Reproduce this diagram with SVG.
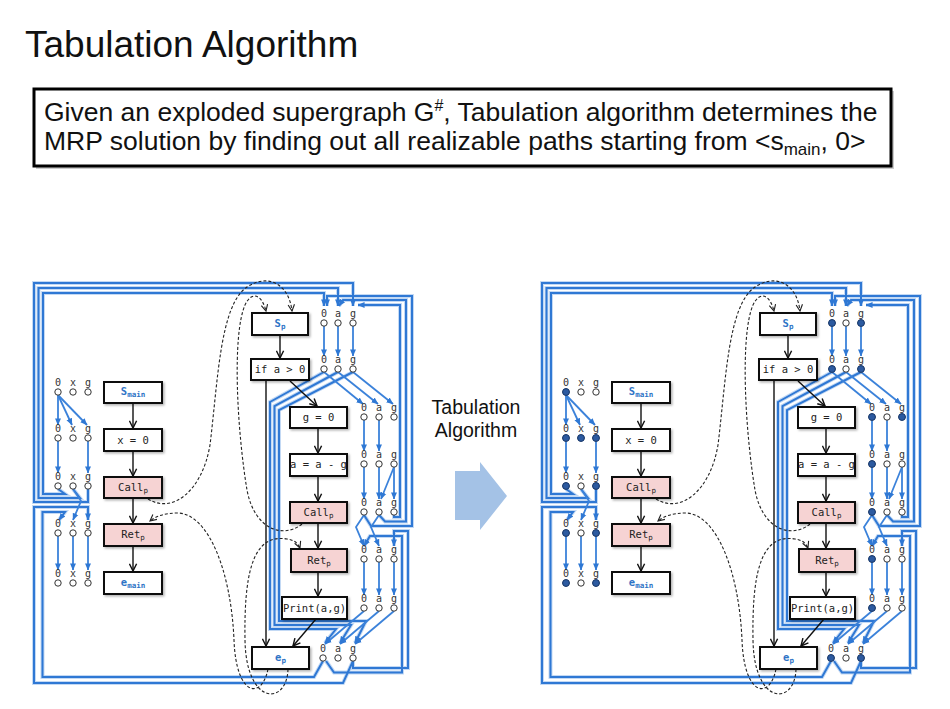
<svg xmlns="http://www.w3.org/2000/svg" xmlns:xlink="http://www.w3.org/1999/xlink" width="950" height="709" viewBox="0 0 950 709">
<style>
.sans{font-family:"Liberation Sans",Arial,sans-serif;fill:#111}
.box{fill:#fff;stroke:#111;stroke-width:2;filter:url(#ds)}
.pink{fill:#f6d3d3}
.code{font-family:"DejaVu Sans Mono","Liberation Mono",monospace;font-size:10.5px;fill:#222;text-anchor:middle}
.sub{font-size:7.5px}
.blue{fill:#2f74c6;font-weight:bold}
.lbl{font-family:"DejaVu Sans Mono","Liberation Mono",monospace;font-size:10px;fill:#333;text-anchor:middle}
.dot{fill:#fff;stroke:#333;stroke-width:1}
.on{fill:#2c5aa0;stroke:#1b3c70;stroke-width:1}
.e{fill:none;stroke:#3b82da;stroke-width:1.8;marker-end:url(#ab)}
.halo{fill:none;stroke:#c3d9f4;stroke-width:4}
.rail{fill:none;stroke:#2f78d4;stroke-width:2;marker-end:url(#ab)}
.flow{fill:none;stroke:#111;stroke-width:1.4;marker-end:url(#ak)}
.dash{fill:none;stroke:#222;stroke-width:1.1;stroke-dasharray:3 2;marker-end:url(#ad)}
</style>
<defs>
  <filter id="ds" x="-10%" y="-20%" width="130%" height="160%">
    <feDropShadow dx="1.5" dy="1.5" stdDeviation="0.8" flood-color="#000" flood-opacity="0.3"/>
  </filter>
  <marker id="ab" viewBox="0 0 8 8" refX="7.5" refY="4" markerWidth="7" markerHeight="7" markerUnits="userSpaceOnUse" orient="auto">
    <path d="M0,0.6 L8,4 L0,7.4 z" fill="#2f78d4"/>
  </marker>
  <marker id="ak" viewBox="0 0 10 10" refX="9" refY="5" markerWidth="9" markerHeight="9" markerUnits="userSpaceOnUse" orient="auto">
    <path d="M1,1 L9,5 L1,9" fill="none" stroke="#111" stroke-width="1.6"/>
  </marker>
  <marker id="ad" viewBox="0 0 10 10" refX="9" refY="5" markerWidth="8" markerHeight="8" markerUnits="userSpaceOnUse" orient="auto">
    <path d="M1,1 L9,5 L1,9" fill="none" stroke="#222" stroke-width="1.4"/>
  </marker>

  <!-- long fact edges routed round the procedures -->
  <g id="railpaths">
    <!-- call main -> s_p -->
    <path d="M58,489 L65,494 L43,494 L43,293 L324,293 L324,306"/>
    <path d="M73,489 L80,498 L38.5,498 L38.5,288 L338,288 L338,306"/>
    <path d="M88,489 L88,502 L34,502 L34,283 L353,283 L353,306"/>
    <!-- e_p -> ret main -->
    <path d="M353,661 L343,683 L34,683 L34,507 L88,507 L88,520"/>
    <path d="M323,661 L314,677 L42.5,677 L42.5,512 L65,512 L59,520"/>
    <!-- if -> e_p bypass -->
    <path d="M324,372 L270,402 L270,629 L336,629 L325,643"/>
    <path d="M338,372 L274.5,406 L274.5,625 L351,625 L340,643"/>
    <path d="M353,372 L279,410 L279,621 L366,621 L355,643"/>
    <!-- recursive call p -> s_p -->
    <path d="M364,515 L371,526 L412,526 L412,296 L327,296 L327,306"/>
    <path d="M379,515 L385,521.5 L406,521.5 L406,300 L343,300 L339,306"/>
    <path d="M394,515 L394,517 L400,517 L400,305 L358,305"/>
    <!-- e_p -> ret p -->
    <path d="M353,661 L353,668 L408,668 L408,531 L394,531 L394,546"/>
    <path d="M326,661 L334,672.5 L402,672.5 L402,536 L370,536 L364,546"/>
  </g>

  <g id="graph">
    <g id="connectors">
      <use xlink:href="#railpaths" class="halo"/>
      <use xlink:href="#railpaths" class="rail"/>
      <!-- fact edges inside main -->
      <path class="e" d="M58,395 L58,425"/>
      <path class="e" d="M58,395 L72,425"/>
      <path class="e" d="M58,395 L87,425"/>
      <path class="e" d="M58,441 L58,473"/>
      <path class="e" d="M88,441 L88,473"/>
      <path class="e" d="M73,489 L81,501 L73,520"/>
      <path class="e" d="M58,536 L58,570"/>
      <path class="e" d="M73,536 L73,570"/>
      <path class="e" d="M88,536 L88,570"/>
      <!-- fact edges inside p -->
      <path class="e" d="M324,326 L324,356"/>
      <path class="e" d="M338,326 L338,356"/>
      <path class="e" d="M353,326 L353,356"/>
      <path class="e" d="M324,372 L363,404"/>
      <path class="e" d="M338,372 L378,404"/>
      <path class="e" d="M353,372 L393,404"/>
      <path class="e" d="M364,420 L364,451"/>
      <path class="e" d="M379,420 L379,451"/>
      <path class="e" d="M364,467 L364,499"/>
      <path class="e" d="M379,467 L379,499"/>
      <path class="e" d="M394,467 L394,499"/>
      <path class="e" d="M394,467 L381,499"/>
      <path class="e" d="M364,515 L356,527 L364,546"/>
      <path class="e" d="M379,515 L371,527 L379,546"/>
      <path class="e" d="M364,562 L364,595"/>
      <path class="e" d="M379,562 L379,595"/>
      <path class="e" d="M394,562 L394,595"/>
      <path class="e" d="M364,611 L325,644"/>
      <path class="e" d="M379,611 L340,644"/>
      <path class="e" d="M394,611 L355,644"/>
      <!-- control flow -->
      <path class="flow" d="M133,403 L133,428"/>
      <path class="flow" d="M133,451 L133,476"/>
      <path class="flow" d="M133,498 L133,523"/>
      <path class="flow" d="M133,546 L133,571"/>
      <path class="flow" d="M280,335 L280,358"/>
      <path class="flow" d="M290,381 L317,406"/>
      <path class="flow" d="M318,428 L318,453"/>
      <path class="flow" d="M318,476 L318,501"/>
      <path class="flow" d="M318,523 L318,548"/>
      <path class="flow" d="M318,572 L318,596"/>
      <path class="flow" d="M316,619 L293,646"/>
      <path class="flow" d="M266,380 L266,646"/>
      <!-- call / return control edges -->
      <path class="dash" d="M148,499 C172,514 202,492 210,445 C218,380 220,305 247,287 C268,273 289,284 292,311"/>
      <path class="dash" d="M302,524 C285,538 255,532 247,490 C237,430 232,335 245,305 C252,290 262,295 266,311"/>
      <path class="dash" d="M268,669 C262,700 236,697 234,640 C231,570 208,514 178,513 C165,513 156,516 150,521"/>
      <path class="dash" d="M288,669 C287,706 246,706 245,640 C244,575 252,533 287,539 C294,540 298,543 300,548"/>
    </g>

    <!-- procedure main -->
    <g id="n-smain"><rect class="box" x="104" y="382" width="58" height="21"/><text class="code blue" x="133" y="395" font-size="12">S<tspan class="sub" dy="2">main</tspan></text></g>
    <g id="n-x0"><rect class="box" x="104" y="429" width="58" height="22"/><text class="code" x="133" y="444">x = 0</text></g>
    <g id="n-callmain"><rect class="box pink" x="104" y="477" width="58" height="21"/><text class="code" x="133" y="491">Call<tspan class="sub" dy="2">p</tspan></text></g>
    <g id="n-retmain"><rect class="box pink" x="104" y="524" width="58" height="22"/><text class="code" x="133" y="538">Ret<tspan class="sub" dy="2">p</tspan></text></g>
    <g id="n-emain"><rect class="box" x="104" y="572" width="58" height="22"/><text class="code blue" x="133" y="586" font-size="12">e<tspan class="sub" dy="2">main</tspan></text></g>

    <!-- procedure p -->
    <g id="n-sp"><rect class="box" x="252" y="313" width="56" height="22"/><text class="code blue" x="280" y="327" font-size="12">S<tspan class="sub" dy="2">p</tspan></text></g>
    <g id="n-if"><rect class="box" x="251" y="359" width="58" height="21"/><text class="code" x="280" y="373">if a &gt; 0</text></g>
    <g id="n-g0"><rect class="box" x="290" y="407" width="57" height="21"/><text class="code" x="318.5" y="421">g = 0</text></g>
    <g id="n-aag"><rect class="box" x="290" y="454" width="57" height="22"/><text class="code" x="318.5" y="468">a = a - g</text></g>
    <g id="n-callp"><rect class="box pink" x="290" y="502" width="57" height="21"/><text class="code" x="318.5" y="516">Call<tspan class="sub" dy="2">p</tspan></text></g>
    <g id="n-retp"><rect class="box pink" x="291" y="549" width="56" height="23"/><text class="code" x="319" y="564">Ret<tspan class="sub" dy="2">p</tspan></text></g>
    <g id="n-print"><rect class="box" x="282" y="597" width="65" height="22"/><text class="code" x="314.5" y="611.5" font-size="10">Print(a,g)</text></g>
    <g id="n-ep"><rect class="box" x="252" y="647" width="57" height="22"/><text class="code blue" x="280.5" y="661" font-size="12">e<tspan class="sub" dy="2">p</tspan></text></g>

    <!-- exploded fact nodes: main -->
    <g id="f-smain"><text class="lbl" x="58" y="386">0</text><text class="lbl" x="73" y="386">x</text><text class="lbl" x="88" y="386">g</text><circle class="dot" cx="58" cy="392" r="3.2"/><circle class="dot" cx="73" cy="392" r="3.2"/><circle class="dot" cx="88" cy="392" r="3.2"/></g>
    <g id="f-x0"><text class="lbl" x="58" y="432">0</text><text class="lbl" x="73" y="432">x</text><text class="lbl" x="88" y="432">g</text><circle class="dot" cx="58" cy="438" r="3.2"/><circle class="dot" cx="73" cy="438" r="3.2"/><circle class="dot" cx="88" cy="438" r="3.2"/></g>
    <g id="f-callmain"><text class="lbl" x="58" y="480">0</text><text class="lbl" x="73" y="480">x</text><text class="lbl" x="88" y="480">g</text><circle class="dot" cx="58" cy="486" r="3.2"/><circle class="dot" cx="73" cy="486" r="3.2"/><circle class="dot" cx="88" cy="486" r="3.2"/></g>
    <g id="f-retmain"><text class="lbl" x="58" y="527">0</text><text class="lbl" x="73" y="527">x</text><text class="lbl" x="88" y="527">g</text><circle class="dot" cx="58" cy="533" r="3.2"/><circle class="dot" cx="73" cy="533" r="3.2"/><circle class="dot" cx="88" cy="533" r="3.2"/></g>
    <g id="f-emain"><text class="lbl" x="58" y="577">0</text><text class="lbl" x="73" y="577">x</text><text class="lbl" x="88" y="577">g</text><circle class="dot" cx="58" cy="583" r="3.2"/><circle class="dot" cx="73" cy="583" r="3.2"/><circle class="dot" cx="88" cy="583" r="3.2"/></g>

    <!-- exploded fact nodes: p -->
    <g id="f-sp"><text class="lbl" x="324" y="317">0</text><text class="lbl" x="338" y="317">a</text><text class="lbl" x="353" y="317">g</text><circle class="dot" cx="324" cy="323" r="3.2"/><circle class="dot" cx="338" cy="323" r="3.2"/><circle class="dot" cx="353" cy="323" r="3.2"/></g>
    <g id="f-if"><text class="lbl" x="324" y="363">0</text><text class="lbl" x="338" y="363">a</text><text class="lbl" x="353" y="363">g</text><circle class="dot" cx="324" cy="369" r="3.2"/><circle class="dot" cx="338" cy="369" r="3.2"/><circle class="dot" cx="353" cy="369" r="3.2"/></g>
    <g id="f-g0"><text class="lbl" x="364" y="411">0</text><text class="lbl" x="379" y="411">a</text><text class="lbl" x="394" y="411">g</text><circle class="dot" cx="364" cy="417" r="3.2"/><circle class="dot" cx="379" cy="417" r="3.2"/><circle class="dot" cx="394" cy="417" r="3.2"/></g>
    <g id="f-aag"><text class="lbl" x="364" y="458">0</text><text class="lbl" x="379" y="458">a</text><text class="lbl" x="394" y="458">g</text><circle class="dot" cx="364" cy="464" r="3.2"/><circle class="dot" cx="379" cy="464" r="3.2"/><circle class="dot" cx="394" cy="464" r="3.2"/></g>
    <g id="f-callp"><text class="lbl" x="364" y="506">0</text><text class="lbl" x="379" y="506">a</text><text class="lbl" x="394" y="506">g</text><circle class="dot" cx="364" cy="512" r="3.2"/><circle class="dot" cx="379" cy="512" r="3.2"/><circle class="dot" cx="394" cy="512" r="3.2"/></g>
    <g id="f-retp"><text class="lbl" x="364" y="553">0</text><text class="lbl" x="379" y="553">a</text><text class="lbl" x="394" y="553">g</text><circle class="dot" cx="364" cy="559" r="3.2"/><circle class="dot" cx="379" cy="559" r="3.2"/><circle class="dot" cx="394" cy="559" r="3.2"/></g>
    <g id="f-print"><text class="lbl" x="364" y="602">0</text><text class="lbl" x="379" y="602">a</text><text class="lbl" x="394" y="602">g</text><circle class="dot" cx="364" cy="608" r="3.2"/><circle class="dot" cx="379" cy="608" r="3.2"/><circle class="dot" cx="394" cy="608" r="3.2"/></g>
    <g id="f-ep"><text class="lbl" x="323" y="652">0</text><text class="lbl" x="338" y="652">a</text><text class="lbl" x="353" y="652">g</text><circle class="dot" cx="323" cy="658" r="3.2"/><circle class="dot" cx="338" cy="658" r="3.2"/><circle class="dot" cx="353" cy="658" r="3.2"/></g>
  </g>
</defs>

<rect width="950" height="709" fill="#fff"/>

<text class="sans" x="25" y="57" font-size="37">Tabulation Algorithm</text>

<g id="summary">
  <rect x="36" y="91" width="858" height="78" fill="#999" opacity="0.5"/>
  <rect x="34" y="89" width="857" height="77" fill="#fff" stroke="#000" stroke-width="3"/>
  <text class="sans" x="44" y="121" font-size="26.5">Given an exploded supergraph G<tspan font-size="16" dy="-10">#</tspan><tspan dy="10">, Tabulation algorithm determines the</tspan></text>
  <text class="sans" x="44" y="150" font-size="26.5">MRP solution by finding out all realizable paths starting from &lt;s<tspan font-size="17" dy="5">main</tspan><tspan dy="-5">, 0&gt;</tspan></text>
</g>

<!-- exploded supergraph before and after tabulation -->
<use id="before" xlink:href="#graph"/>
<use id="after" xlink:href="#graph" x="508"/>

<!-- facts reached from <s_main, 0> -->
<g id="reached">
  <circle class="on" cx="566" cy="392" r="3.4"/>
  <circle class="on" cx="566" cy="438" r="3.4"/><circle class="on" cx="581" cy="438" r="3.4"/><circle class="on" cx="596" cy="438" r="3.4"/>
  <circle class="on" cx="566" cy="486" r="3.4"/><circle class="on" cx="596" cy="486" r="3.4"/>
  <circle class="on" cx="566" cy="533" r="3.4"/><circle class="on" cx="596" cy="533" r="3.4"/>
  <circle class="on" cx="566" cy="583" r="3.4"/><circle class="on" cx="596" cy="583" r="3.4"/>
  <circle class="on" cx="832" cy="323" r="3.4"/><circle class="on" cx="861" cy="323" r="3.4"/>
  <circle class="on" cx="832" cy="369" r="3.4"/><circle class="on" cx="861" cy="369" r="3.4"/>
  <circle class="on" cx="872" cy="417" r="3.4"/><circle class="on" cx="902" cy="417" r="3.4"/>
  <circle class="on" cx="872" cy="464" r="3.4"/>
  <circle class="on" cx="872" cy="512" r="3.4"/>
  <circle class="on" cx="872" cy="559" r="3.4"/>
  <circle class="on" cx="872" cy="608" r="3.4"/>
  <circle class="on" cx="831" cy="658" r="3.4"/><circle class="on" cx="861" cy="658" r="3.4"/>
</g>

<g id="transition">
  <text class="sans" x="476" y="414" font-size="19.5" text-anchor="middle">Tabulation</text>
  <text class="sans" x="476" y="437" font-size="19.5" text-anchor="middle">Algorithm</text>
  <polygon points="455,471 480,471 480,462 507,496 480,530 480,520 455,520" fill="#a4c2e6"/>
</g>
</svg>
